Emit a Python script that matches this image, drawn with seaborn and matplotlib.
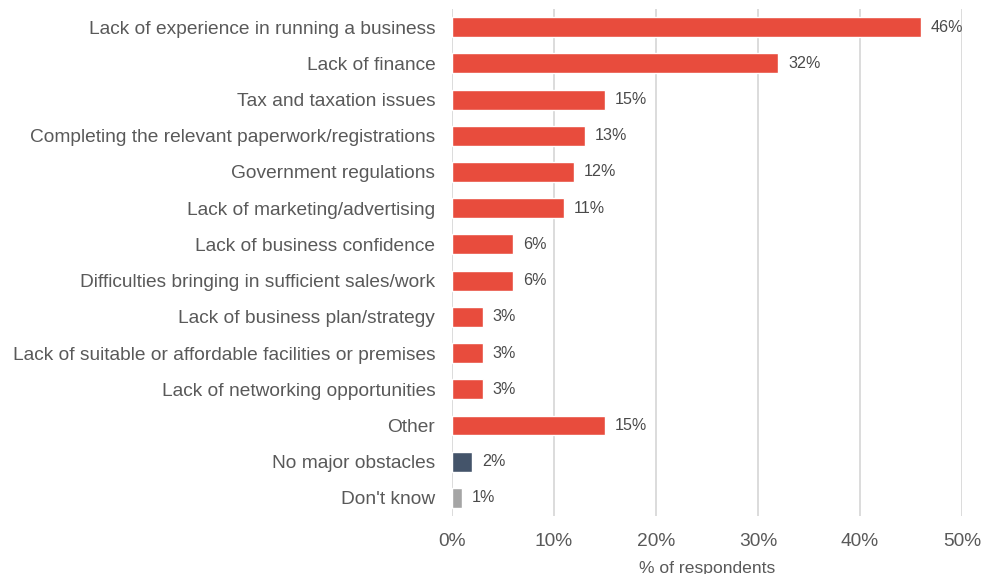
import matplotlib
matplotlib.use("Agg")
import matplotlib.pyplot as plt
import seaborn as sns
import pandas as pd
from matplotlib.ticker import FuncFormatter, MultipleLocator

categories = [
    "Lack of experience in running a business",
    "Lack of finance",
    "Tax and taxation issues",
    "Completing the relevant paperwork/registrations",
    "Government regulations",
    "Lack of marketing/advertising",
    "Lack of business confidence",
    "Difficulties bringing in sufficient sales/work",
    "Lack of business plan/strategy",
    "Lack of suitable or affordable facilities or premises",
    "Lack of networking opportunities",
    "Other",
    "No major obstacles",
    "Don't know",
]
values = [46, 32, 15, 13, 12, 11, 6, 6, 3, 3, 3, 15, 2, 1]
bar_colors = ["#E84C3D"] * 12 + ["#44546A", "#A5A5A5"]

sns.set_theme(style="white")
plt.rcParams["font.family"] = ["Liberation Sans", "DejaVu Sans"]

text_color = "#595959"
df = pd.DataFrame({"obstacle": categories, "pct": values})

fig = plt.figure(figsize=(9.82, 5.74), dpi=100)
ax = fig.add_axes([0.4603, 0.101, 0.5193, 0.8833])

sns.barplot(data=df, y="obstacle", x="pct", hue="obstacle",
            palette=bar_colors, order=categories, hue_order=categories,
            legend=False, width=0.55, ax=ax, saturation=1)

ax.set_xlim(0, 50)
ax.set_ylim(len(categories) - 0.5, -0.5)
ax.xaxis.set_major_locator(MultipleLocator(10))
ax.xaxis.set_major_formatter(FuncFormatter(lambda v, _: f"{v:.0f}%"))
ax.grid(axis="x", color="#D9D9D9", linewidth=1.3)
ax.set_axisbelow(True)
for s in ax.spines.values():
    s.set_visible(False)

ax.tick_params(axis="y", length=0, pad=12, labelsize=13.8, labelcolor=text_color)
ax.tick_params(axis="x", length=0, pad=12, labelsize=13.8, labelcolor=text_color)
ax.set_ylabel("")
ax.set_xlabel("% of respondents", fontsize=12.6, color=text_color, labelpad=8)

for container in ax.containers:
    ax.bar_label(container, fmt="%g%%", padding=7, fontsize=11.6, color="#4A4A4A")

fig.savefig("out.png", dpi=100)
